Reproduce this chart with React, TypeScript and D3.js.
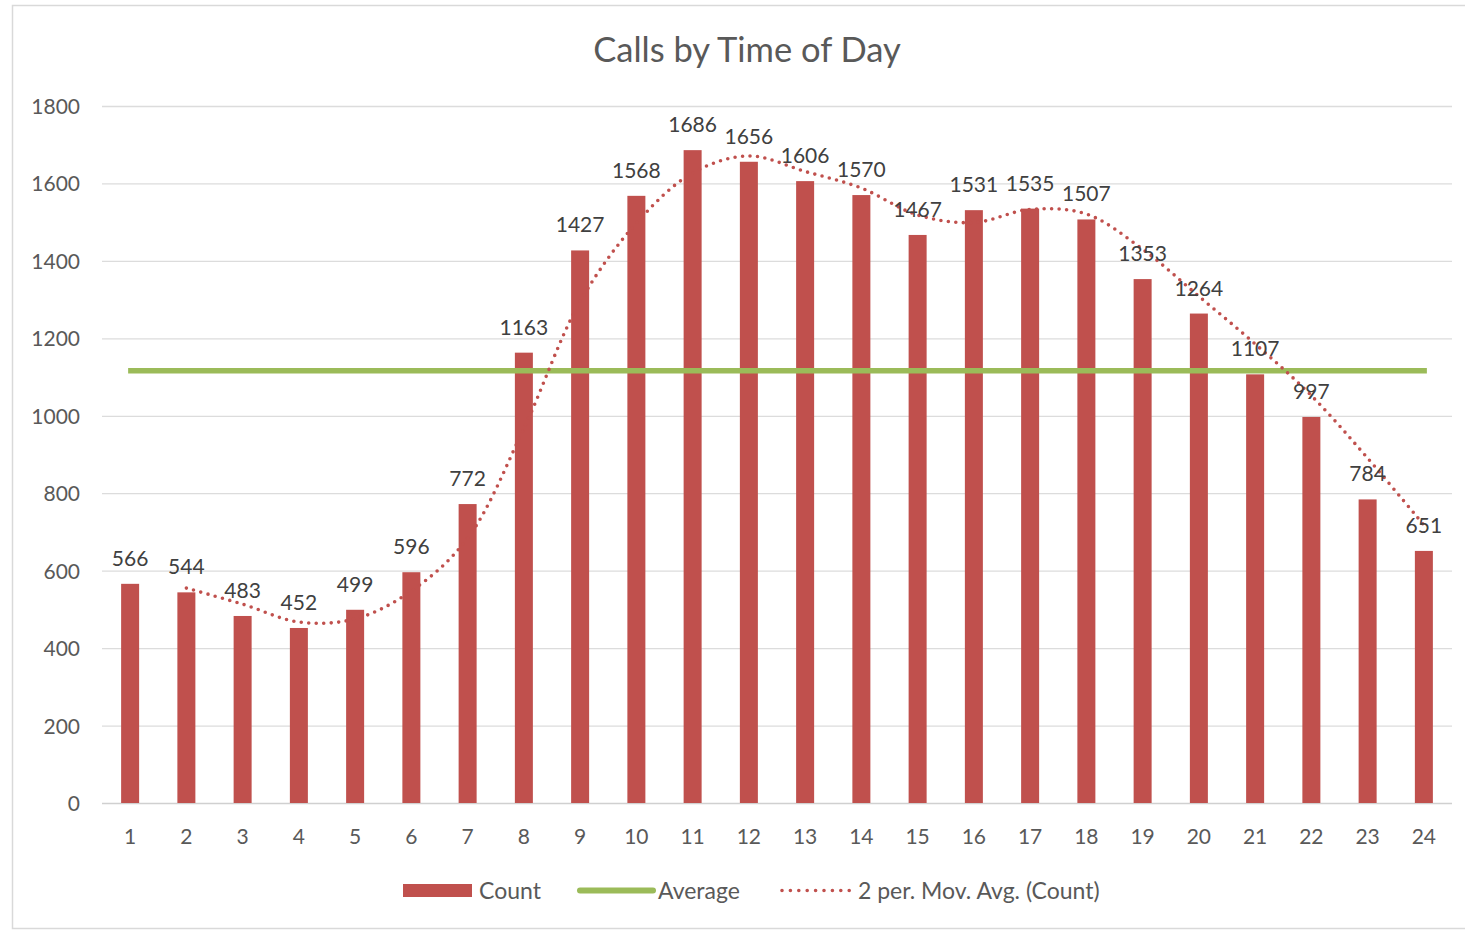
import React from "react";
import * as d3 from "d3";

const hours = ["1","2","3","4","5","6","7","8","9","10","11","12","13","14","15","16","17","18","19","20","21","22","23","24"];
const counts = [566,544,483,452,499,596,772,1163,1427,1568,1686,1656,1606,1570,1467,1531,1535,1507,1353,1264,1107,997,784,651];
const yTicks = [0,200,400,600,800,1000,1200,1400,1600,1800];
const title = "Calls by Time of Day";
const legendLabels = ["Count", "Average", "2 per. Mov. Avg. (Count)"];

const W = 1465, H = 930;
const FONT = "Lato, 'Open Sans', sans-serif";
const BAR = "#C0504D";
const GREEN = "#9BBB59";
const TEXT = "#595959";

export default function App() {
  const x = d3.scaleBand().domain(hours).range([102, 1452]).paddingInner(0.68).paddingOuter(0.34);
  const y = d3.scaleLinear().domain([0, 1800]).range([803, 106]);
  const cx = (h: string) => (x(h) as number) + x.bandwidth() / 2;
  const avg = d3.mean(counts) as number;
  const mov = counts.map((v, i) => (i === 0 ? null : (v + counts[i - 1]) / 2));
  const movPts = mov.map((v, i) => ({ h: hours[i], v })).filter((d) => d.v !== null) as { h: string; v: number }[];
  const movLine = d3.line<{ h: string; v: number }>().x((d) => cx(d.h)).y((d) => y(d.v)).curve(d3.curveCatmullRom.alpha(0.5));

  return (
    <svg width={W} height={H} style={{ position: "absolute", left: 0, top: 0, background: "#fff" }} fontFamily={FONT}>
      <rect x={12.5} y={5.5} width={1460} height={923} fill="#fff" stroke="#D9D9D9" strokeWidth={1.5} />
      <text x={747} y={62} textAnchor="middle" fontSize={34.5} fill={TEXT}>{title}</text>
      {yTicks.map((t) => (
        <g key={t}>
          <line x1={102} x2={1452} y1={y(t) + 0.5} y2={y(t) + 0.5} stroke={t === 0 ? "#D0D0D0" : "#DCDCDC"} strokeWidth={1.3} />
          <text x={80} y={y(t) + 8} textAnchor="end" fontSize={21} fill={TEXT}>{t}</text>
        </g>
      ))}
      {hours.map((h) => (
        <text key={h} x={cx(h)} y={844} textAnchor="middle" fontSize={21} fill={TEXT}>{h}</text>
      ))}
      {counts.map((v, i) => (
        <rect key={i} x={x(hours[i]) as number} y={y(v)} width={x.bandwidth()} height={y(0) - y(v)} fill={BAR} />
      ))}
      <line x1={cx(hours[0]) - 2} x2={cx(hours[hours.length - 1]) + 3} y1={y(avg)} y2={y(avg)} stroke={GREEN} strokeWidth={5.5} />
      <path d={movLine(movPts) || ""} fill="none" stroke={BAR} strokeWidth={3.6} strokeDasharray="0 7.5" strokeLinecap="round" />
      {counts.map((v, i) => (
        <text key={i} x={cx(hours[i])} y={y(v) - 18} textAnchor="middle" fontSize={21} fill="#404040">{v}</text>
      ))}
      <g fontSize={23} fill={TEXT}>
        <rect x={403} y={884} width={69} height={13} fill={BAR} />
        <text x={479} y={898.5}>{legendLabels[0]}</text>
        <line x1={580} x2={653} y1={890.5} y2={890.5} stroke={GREEN} strokeWidth={6} strokeLinecap="round" />
        <text x={658} y={898.5}>{legendLabels[1]}</text>
        <line x1={782} x2={850} y1={890.5} y2={890.5} stroke={BAR} strokeWidth={3.6} strokeDasharray="0 8.4" strokeLinecap="round" />
        <text x={858} y={898.5}>{legendLabels[2]}</text>
      </g>
    </svg>
  );
}
